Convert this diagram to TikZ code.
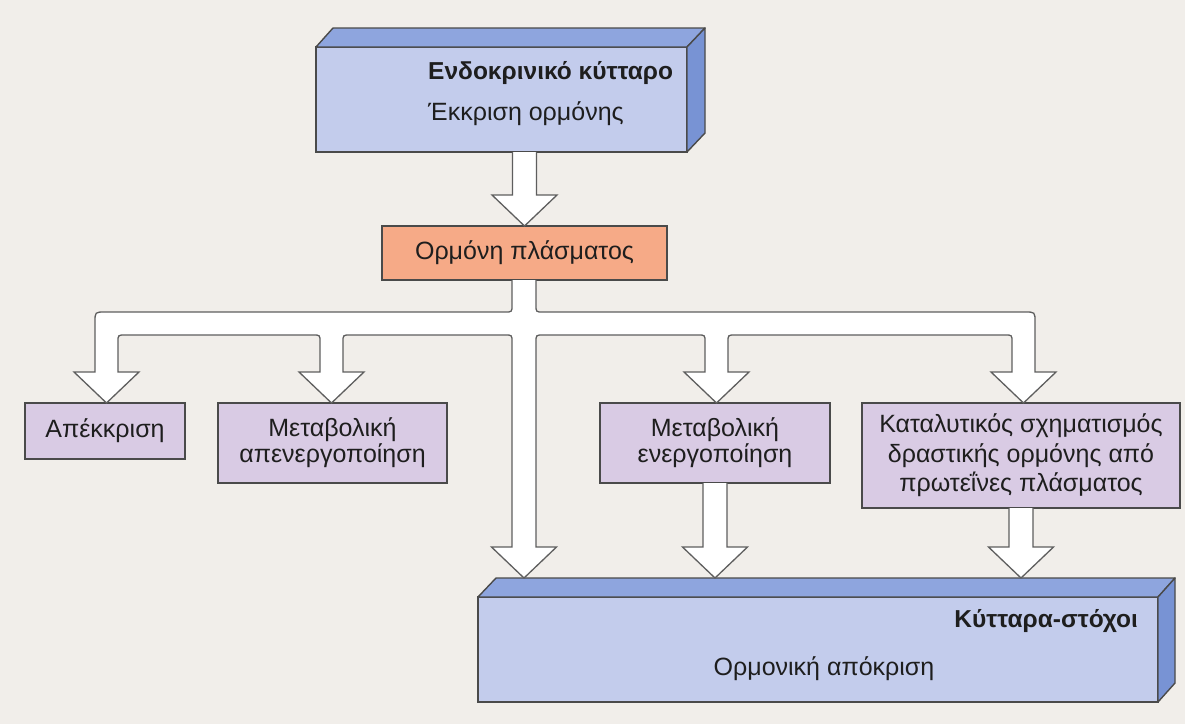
\documentclass[tikz,border=0pt]{standalone}
\usepackage{fontspec}
\setmainfont{Liberation Sans}
\usetikzlibrary{calc}

\definecolor{bg}{HTML}{F1EEEA}
\definecolor{cellfront}{HTML}{C3CCEC}
\definecolor{celltop}{HTML}{8EA5DE}
\definecolor{cellside}{HTML}{7893D4}
\definecolor{plasma}{HTML}{F6AA87}
\definecolor{fate}{HTML}{D9CBE4}
\definecolor{edge}{HTML}{4A4A4A}
\definecolor{pipeedge}{HTML}{5E5E5E}
\definecolor{ink}{HTML}{1E1E1E}

% hollow block arrow pointing down: #1 start of the shaft, #2 tip
\newcommand\downarrowblock[2]{%
  \path[blockarrow] let \p1=(#1), \p2=(#2) in
    ({\x1-12pt},\y1) -- ({\x1-12pt},{\y2+31pt}) -- ({\x1-32.5pt},{\y2+31pt})
    -- (\x1,\y2) -- ({\x1+32.5pt},{\y2+31pt}) -- ({\x1+12pt},{\y2+31pt})
    -- ({\x1+12pt},\y1);}

\begin{document}
\begin{tikzpicture}[x=1pt,y=-1pt,
  txt/.style={font=\fontsize{25}{29}\selectfont, text=ink, inner sep=0pt},
  titletxt/.style={font=\fontsize{24.5}{29}\selectfont\bfseries, text=ink, inner sep=0pt},
  cellface/.style={draw=edge, line width=1.4pt, fill=cellfront,
    minimum width=#1, minimum height=105pt, inner sep=0pt, outer sep=0pt},
  facet/.style={draw=edge, line width=1.4pt, line join=round},
  flatbox/.style={draw=edge, line width=1.4pt, inner sep=0pt, outer sep=0pt,
    align=center, text=ink, font=\fontsize{25}{26}\selectfont},
  fatebox/.style={flatbox, fill=fate},
  blockarrow/.style={draw=pipeedge, line width=1.3pt, fill=white, line join=miter},
]
\path[use as bounding box, fill=bg] (0,0) rectangle (1185,724);

% secreting cell (3D slab)
\node[cellface=371pt] (endo) at (501.5,99.5) {};
\draw[facet, fill=celltop] (endo.north west) -- ++(17,-19)
  -- ($(endo.north east)+(18,-19)$) -- (endo.north east) -- cycle;
\draw[facet, fill=cellside] (endo.north east) -- ++(18,-19)
  -- ($(endo.south east)+(18,-19)$) -- (endo.south east) -- cycle;
\node[titletxt, anchor=base west] (endotitle) at (428,79) {Ενδοκρινικό κύτταρο};
\node[txt, anchor=base west] (endosub) at (428,120) {Έκκριση ορμόνης};

% plasma hormone
\node[flatbox, fill=plasma, minimum width=285pt, minimum height=54pt,
  font=\fontsize{25}{29}\selectfont] (horm) at (524.5,253) {Ορμόνη πλάσματος};

% fates of the hormone
\node[fatebox, minimum width=160pt, minimum height=56pt] (apek) at (105,431) {Απέκκριση};
\node[fatebox, minimum width=229pt, minimum height=80pt] (metoff) at (332.5,443)
  {Μεταβολική\\απενεργοποίηση};
\node[fatebox, minimum width=230pt, minimum height=80pt] (meton) at (715,443)
  {Μεταβολική\\ενεργοποίηση};
\node[fatebox, minimum width=318pt, minimum height=105pt,
  font=\fontsize{25}{29.5}\selectfont] (catal) at (1021,455.5)
  {Καταλυτικός σχηματισμός\\δραστικής ορμόνης από\\πρωτεΐνες πλάσματος};

% target cells (3D slab)
\node[cellface=680pt] (target) at (818,649.5) {};
\draw[facet, fill=celltop] (target.north west) -- ++(18,-19)
  -- ($(target.north east)+(17,-19)$) -- (target.north east) -- cycle;
\draw[facet, fill=cellside] (target.north east) -- ++(17,-19)
  -- ($(target.south east)+(17,-19)$) -- (target.south east) -- cycle;
\coordinate (targetback) at ($(target.north)+(0,-19)$);
\node[titletxt, anchor=base east] (targettitle) at (1138,627) {Κύτταρα-στόχοι};
\node[txt, anchor=base] (targetsub) at (824,675) {Ορμονική απόκριση};

% secretion into plasma
\downarrowblock{endo.south -| horm.north}{horm.north}

% branching pipe from the plasma hormone to the four fates and the target cells
\path[blockarrow]
  (512,280) -- (512,305) .. controls (512,312) .. (505,312)
  -- (105,312) .. controls (95,312) .. (95,322)
  -- (95,372) -- (74,372) -- (106.5,403) -- (139,372) -- (118,372)
  -- (118,342) .. controls (118,335) .. (125,335)
  -- (313,335) .. controls (320,335) .. (320,342)
  -- (320,372) -- (299,372) -- (331.5,403) -- (364,372) -- (343,372)
  -- (343,342) .. controls (343,335) .. (350,335)
  -- (505,335) .. controls (512,335) .. (512,342)
  -- (512,547) -- (491.5,547) -- (524,578) -- (556.5,547) -- (536,547)
  -- (536,342) .. controls (536,335) .. (543,335)
  -- (698,335) .. controls (705,335) .. (705,342)
  -- (705,372) -- (684,372) -- (716.5,403) -- (749,372) -- (728,372)
  -- (728,342) .. controls (728,335) .. (735,335)
  -- (1005,335) .. controls (1012,335) .. (1012,342)
  -- (1012,372) -- (991,372) -- (1023.5,403) -- (1056,372) -- (1035,372)
  -- (1035,322) .. controls (1035,312) .. (1025,312)
  -- (543,312) .. controls (536,312) .. (536,305)
  -- (536,280);

% activated hormone reaching the target cells
\downarrowblock{meton.south}{meton.south |- targetback}
\downarrowblock{catal.south}{catal.south |- targetback}
\end{tikzpicture}
\end{document}
